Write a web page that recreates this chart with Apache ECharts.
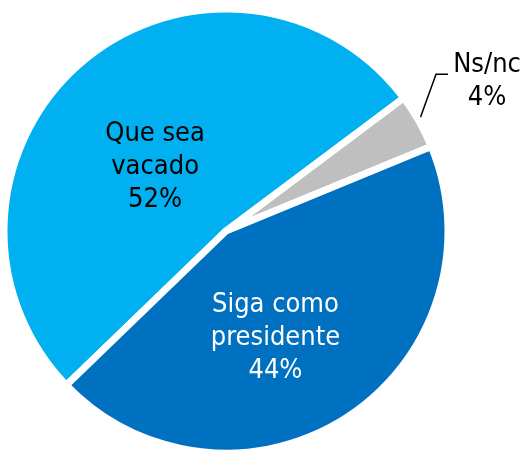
<!DOCTYPE html>
<html>
<head>
<meta charset="utf-8">
<script src="https://cdn.jsdelivr.net/npm/echarts@6/dist/echarts.min.js"></script>
<style>
html,body{margin:0;padding:0;background:#fff;}
#chart{width:532px;height:450px;}
</style>
</head>
<body>
<div id="chart"></div>
<script>
const categories = ['Que sea\nvacado', 'Ns/nc', 'Siga como\npresidente'];
const values = [52, 4, 44];
const sliceColors = ['#00B0F0', '#BFBFBF', '#0070C0'];
const labelColors = ['#000000', '#000000', '#FFFFFF'];

const FONT = "'DejaVu Sans Condensed', 'DejaVu Sans', sans-serif";

const chart = echarts.init(document.getElementById('chart'), null, {renderer: 'canvas'});

const data = categories.map((c, i) => ({
  name: c,
  value: values[i],
  itemStyle: {color: sliceColors[i]},
  label: {
    position: i === 1 ? 'outside' : 'inside',
    color: labelColors[i]
  },
  labelLine: {show: i === 1}
}));

chart.setOption({
  animation: false,
  backgroundColor: '#ffffff',
  series: [{
    type: 'pie',
    center: [226, 231],
    radius: [0, 222],
    startAngle: 224,
    clockwise: true,
    avoidLabelOverlap: false,
    itemStyle: {borderColor: '#ffffff', borderWidth: 7},
    label: {
      show: true,
      formatter: '{b}\n{c}%',
      fontFamily: FONT,
      fontSize: 27,
      lineHeight: 33,
      align: 'center'
    },
    labelLine: {
      show: true,
      length: 20,
      length2: 12,
      lineStyle: {color: '#000000', width: 1.5}
    },
    labelLayout: function (p) {
      if (p.dataIndex === 0) return {dx: 3, dy: 23};
      if (p.dataIndex === 2) return {dx: -13, dy: 12};
      const pts = p.labelLinePoints;
      const p0 = pts[0];
      const p1 = [p0[0] + 17, p0[1] - 47];
      const p2 = [p1[0] + 12, p1[1]];
      return {
        x: p2[0] + 39, y: p2[1] + 7,
        align: 'center', verticalAlign: 'middle',
        labelLinePoints: [p0, p1, p2]
      };
    },
    data: data
  }]
});
</script>
</body>
</html>
